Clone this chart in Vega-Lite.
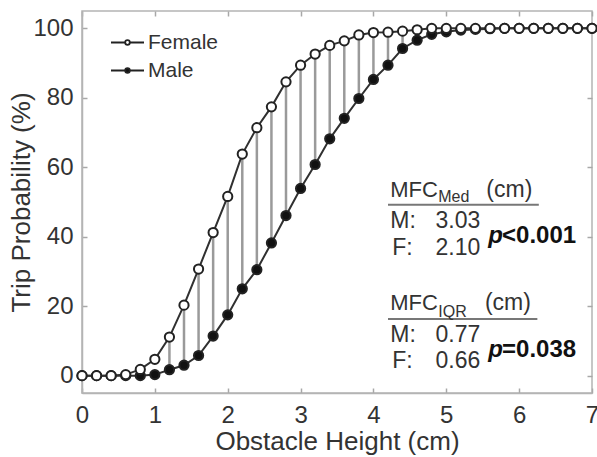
{
  "$schema": "https://vega.github.io/schema/vega-lite/v6.json",
  "width": 510,
  "height": 382,
  "autosize": {"type": "none"},
  "padding": {"left": 82, "top": 11, "right": 5, "bottom": 64},
  "background": "white",
  "config": {
    "font": "Liberation Sans",
    "view": {"stroke": "#b4b4b4", "strokeWidth": 1.5},
    "axis": {
      "grid": false,
      "domainColor": "#b4b4b4",
      "domainWidth": 1.5,
      "tickColor": "#a8a8a8",
      "tickWidth": 1.5,
      "tickSize": -5,
      "labelColor": "#333333",
      "labelFontSize": 24,
      "labelFlush": false,
      "titleColor": "#333333",
      "titleFontSize": 26,
      "titleFontWeight": "normal"
    }
  },
  "datasets": {
    "trip": [
      {"x": 0.0, "Female": 0, "Male": 0},
      {"x": 0.2, "Female": 0, "Male": 0},
      {"x": 0.4, "Female": 0, "Male": 0},
      {"x": 0.6, "Female": 0.3, "Male": 0},
      {"x": 0.8, "Female": 1.8, "Male": 0},
      {"x": 1.0, "Female": 4.7, "Male": 0.3},
      {"x": 1.2, "Female": 11.1, "Male": 1.7},
      {"x": 1.4, "Female": 20.3, "Male": 3.0},
      {"x": 1.6, "Female": 30.7, "Male": 5.8},
      {"x": 1.8, "Female": 41.2, "Male": 11.4},
      {"x": 2.0, "Female": 51.6, "Male": 17.5},
      {"x": 2.2, "Female": 63.8, "Male": 25.0},
      {"x": 2.4, "Female": 71.4, "Male": 30.5},
      {"x": 2.6, "Female": 77.4, "Male": 38.2},
      {"x": 2.8, "Female": 84.6, "Male": 46.1},
      {"x": 3.0, "Female": 89.4, "Male": 53.9},
      {"x": 3.2, "Female": 92.6, "Male": 60.8},
      {"x": 3.4, "Female": 95.1, "Male": 68.2},
      {"x": 3.6, "Female": 96.4, "Male": 74.1},
      {"x": 3.8, "Female": 98.1, "Male": 79.8},
      {"x": 4.0, "Female": 98.8, "Male": 85.3},
      {"x": 4.2, "Female": 98.9, "Male": 89.4},
      {"x": 4.4, "Female": 99.2, "Male": 94.2},
      {"x": 4.6, "Female": 99.6, "Male": 96.6},
      {"x": 4.8, "Female": 100, "Male": 98.3},
      {"x": 5.0, "Female": 100, "Male": 99.0},
      {"x": 5.2, "Female": 100, "Male": 99.5},
      {"x": 5.4, "Female": 100, "Male": 99.7},
      {"x": 5.6, "Female": 100, "Male": 99.9},
      {"x": 5.8, "Female": 100, "Male": 100},
      {"x": 6.0, "Female": 100, "Male": 100},
      {"x": 6.2, "Female": 100, "Male": 100},
      {"x": 6.4, "Female": 100, "Male": 100},
      {"x": 6.6, "Female": 100, "Male": 100},
      {"x": 6.8, "Female": 100, "Male": 100},
      {"x": 7.0, "Female": 100, "Male": 100}
    ]
  },
  "layer": [
    {
      "data": {"name": "trip"},
      "transform": [{"filter": {"field": "x", "range": [1.1, 4.5]}}],
      "mark": {"type": "rule", "color": "#9a9a9a", "strokeWidth": 2.5},
      "encoding": {
        "x": {"field": "x", "type": "quantitative", "scale": {"domain": [0, 7], "nice": false},
              "axis": {"orient": "top", "labels": false, "title": null, "domain": false, "values": [0, 1, 2, 3, 4, 5, 6, 7]}},
        "y": {"field": "Female", "type": "quantitative", "scale": {"domain": [-5, 105], "nice": false},
              "axis": {"orient": "right", "labels": false, "title": null, "domain": false, "values": [0, 20, 40, 60, 80, 100]}},
        "y2": {"field": "Male"}
      }
    },
    {
      "data": {"name": "trip"},
      "transform": [{"fold": ["Female", "Male"], "as": ["sex", "p"]}],
      "mark": {"type": "line", "color": "#303030", "strokeWidth": 2},
      "encoding": {
        "x": {"field": "x", "type": "quantitative", "scale": {"domain": [0, 7], "nice": false},
              "axis": {"orient": "bottom", "values": [0, 1, 2, 3, 4, 5, 6, 7], "labelPadding": 15, "title": "Obstacle Height (cm)", "titlePadding": 1}},
        "y": {"field": "p", "type": "quantitative", "scale": {"domain": [-5, 105], "nice": false},
              "axis": {"orient": "left", "values": [0, 20, 40, 60, 80, 100], "labelPadding": 14, "title": "Trip Probability (%)", "titlePadding": -2}},
        "detail": {"field": "sex"}
      }
    },
    {
      "data": {"name": "trip"},
      "transform": [{"fold": ["Female", "Male"], "as": ["sex", "p"]}],
      "mark": {"type": "circle", "size": 85, "stroke": "#222222", "strokeWidth": 2, "opacity": 1},
      "encoding": {
        "x": {"field": "x", "type": "quantitative", "axis": null},
        "y": {"field": "p", "type": "quantitative", "axis": null},
        "order": {"field": "sex", "sort": "descending"},
        "fill": {
          "field": "sex", "type": "nominal",
          "scale": {"domain": ["Female", "Male"], "range": ["#ffffff", "#111111"]},
          "legend": {
            "title": null, "orient": "none", "legendX": 28, "legendY": 14, "padding": 0,
            "symbolType": "M-1,0H-0.14M0.14,0H1M0.14,0A0.14,0.14,0,1,1,-0.14,0A0.14,0.14,0,1,1,0.14,0Z",
            "symbolSize": 1089, "symbolStrokeColor": "#222222", "symbolStrokeWidth": 1.8,
            "labelFontSize": 21, "labelColor": "#333333", "labelOffset": 3, "rowPadding": -8
          }
        }
      }
    },
    {"data": {"values": [{}]}, "mark": {"type": "rule", "color": "#777777", "strokeWidth": 2},
     "encoding": {"x": {"datum": 4.20, "type": "quantitative", "axis": null}, "x2": {"datum": 6.27}, "y": {"datum": 49.2, "type": "quantitative", "axis": null}}},
    {"data": {"values": [{}]}, "mark": {"type": "rule", "color": "#777777", "strokeWidth": 2},
     "encoding": {"x": {"datum": 4.20, "type": "quantitative", "axis": null}, "x2": {"datum": 6.25}, "y": {"datum": 16.3, "type": "quantitative", "axis": null}}},
    {"data": {"values": [{}]}, "mark": {"type": "text", "text": "MFC", "fontSize": 22, "align": "left", "baseline": "alphabetic", "color": "#333333"},
     "encoding": {"x": {"datum": 4.231, "type": "quantitative", "axis": null}, "y": {"datum": 51.4, "type": "quantitative", "axis": null}}},
    {"data": {"values": [{}]}, "mark": {"type": "text", "text": "Med", "fontSize": 16, "align": "left", "baseline": "alphabetic", "color": "#333333"},
     "encoding": {"x": {"datum": 4.89, "type": "quantitative", "axis": null}, "y": {"datum": 50.1, "type": "quantitative", "axis": null}}},
    {"data": {"values": [{}]}, "mark": {"type": "text", "text": "(cm)", "fontSize": 23, "align": "left", "baseline": "alphabetic", "color": "#333333"},
     "encoding": {"x": {"datum": 5.55, "type": "quantitative", "axis": null}, "y": {"datum": 51.4, "type": "quantitative", "axis": null}}},
    {"data": {"values": [{}]}, "mark": {"type": "text", "text": "M:", "fontSize": 23, "align": "left", "baseline": "alphabetic", "color": "#333333"},
     "encoding": {"x": {"datum": 4.231, "type": "quantitative", "axis": null}, "y": {"datum": 42.5, "type": "quantitative", "axis": null}}},
    {"data": {"values": [{}]}, "mark": {"type": "text", "text": "3.03", "fontSize": 23, "align": "right", "baseline": "alphabetic", "color": "#333333"},
     "encoding": {"x": {"datum": 5.467, "type": "quantitative", "axis": null}, "y": {"datum": 42.5, "type": "quantitative", "axis": null}}},
    {"data": {"values": [{}]}, "mark": {"type": "text", "text": "F:", "fontSize": 23, "align": "left", "baseline": "alphabetic", "color": "#333333"},
     "encoding": {"x": {"datum": 4.258, "type": "quantitative", "axis": null}, "y": {"datum": 34.7, "type": "quantitative", "axis": null}}},
    {"data": {"values": [{}]}, "mark": {"type": "text", "text": "2.10", "fontSize": 23, "align": "right", "baseline": "alphabetic", "color": "#333333"},
     "encoding": {"x": {"datum": 5.467, "type": "quantitative", "axis": null}, "y": {"datum": 34.7, "type": "quantitative", "axis": null}}},
    {"data": {"values": [{}]}, "mark": {"type": "text", "text": "p", "fontSize": 24, "fontWeight": "bold", "fontStyle": "italic", "align": "left", "baseline": "alphabetic", "color": "#111111"},
     "encoding": {"x": {"datum": 5.577, "type": "quantitative", "axis": null}, "y": {"datum": 38.3, "type": "quantitative", "axis": null}}},
    {"data": {"values": [{}]}, "mark": {"type": "text", "text": "<0.001", "fontSize": 24, "fontWeight": "bold", "align": "left", "baseline": "alphabetic", "color": "#111111"},
     "encoding": {"x": {"datum": 5.765, "type": "quantitative", "axis": null}, "y": {"datum": 38.3, "type": "quantitative", "axis": null}}},
    {"data": {"values": [{}]}, "mark": {"type": "text", "text": "MFC", "fontSize": 22, "align": "left", "baseline": "alphabetic", "color": "#333333"},
     "encoding": {"x": {"datum": 4.231, "type": "quantitative", "axis": null}, "y": {"datum": 18.9, "type": "quantitative", "axis": null}}},
    {"data": {"values": [{}]}, "mark": {"type": "text", "text": "IQR", "fontSize": 16, "align": "left", "baseline": "alphabetic", "color": "#333333"},
     "encoding": {"x": {"datum": 4.89, "type": "quantitative", "axis": null}, "y": {"datum": 16.9, "type": "quantitative", "axis": null}}},
    {"data": {"values": [{}]}, "mark": {"type": "text", "text": "(cm)", "fontSize": 23, "align": "left", "baseline": "alphabetic", "color": "#333333"},
     "encoding": {"x": {"datum": 5.53, "type": "quantitative", "axis": null}, "y": {"datum": 18.9, "type": "quantitative", "axis": null}}},
    {"data": {"values": [{}]}, "mark": {"type": "text", "text": "M:", "fontSize": 23, "align": "left", "baseline": "alphabetic", "color": "#333333"},
     "encoding": {"x": {"datum": 4.231, "type": "quantitative", "axis": null}, "y": {"datum": 9.7, "type": "quantitative", "axis": null}}},
    {"data": {"values": [{}]}, "mark": {"type": "text", "text": "0.77", "fontSize": 23, "align": "right", "baseline": "alphabetic", "color": "#333333"},
     "encoding": {"x": {"datum": 5.467, "type": "quantitative", "axis": null}, "y": {"datum": 9.7, "type": "quantitative", "axis": null}}},
    {"data": {"values": [{}]}, "mark": {"type": "text", "text": "F:", "fontSize": 23, "align": "left", "baseline": "alphabetic", "color": "#333333"},
     "encoding": {"x": {"datum": 4.258, "type": "quantitative", "axis": null}, "y": {"datum": 2.2, "type": "quantitative", "axis": null}}},
    {"data": {"values": [{}]}, "mark": {"type": "text", "text": "0.66", "fontSize": 23, "align": "right", "baseline": "alphabetic", "color": "#333333"},
     "encoding": {"x": {"datum": 5.467, "type": "quantitative", "axis": null}, "y": {"datum": 2.2, "type": "quantitative", "axis": null}}},
    {"data": {"values": [{}]}, "mark": {"type": "text", "text": "p", "fontSize": 24, "fontWeight": "bold", "fontStyle": "italic", "align": "left", "baseline": "alphabetic", "color": "#111111"},
     "encoding": {"x": {"datum": 5.577, "type": "quantitative", "axis": null}, "y": {"datum": 5.4, "type": "quantitative", "axis": null}}},
    {"data": {"values": [{}]}, "mark": {"type": "text", "text": "=0.038", "fontSize": 24, "fontWeight": "bold", "align": "left", "baseline": "alphabetic", "color": "#111111"},
     "encoding": {"x": {"datum": 5.765, "type": "quantitative", "axis": null}, "y": {"datum": 5.4, "type": "quantitative", "axis": null}}}
  ],
  "resolve": {"axis": {"x": "independent", "y": "independent"}}
}
